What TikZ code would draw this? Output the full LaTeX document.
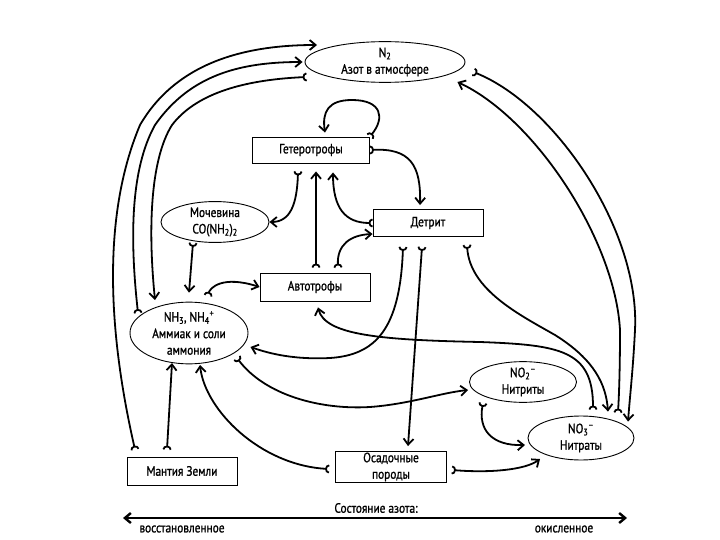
\documentclass[tikz,border=0pt]{standalone}
\usepackage{fontspec}
\setmainfont{PT Sans}[FakeStretch=0.84,FakeBold=1.2]
\usetikzlibrary{arrows.meta,shapes.geometric}
\tikzset{
  Tl/.tip={Arc Barb[reversed,width=9pt,length=4pt]},
  Ar/.tip={Straight Barb[length=6pt,width=10pt]},
  box/.style={draw,rectangle,line width=0.9pt,inner sep=0pt,align=center},
  ell/.style={draw,ellipse,line width=0.9pt,inner sep=0pt,align=center},
  conn/.style={line width=1.8pt,Tl-Ar},
  axis/.style={line width=2.4pt,Ar-Ar},
  lbl/.style={inner sep=0pt}
}
\begin{document}
\begin{tikzpicture}[x=1pt,y=-1pt,font=\fontsize{13.5}{16.5}\selectfont]
\useasboundingbox (0,0) rectangle (720,540);
\node[ell,minimum width=160pt,minimum height=40pt] (n2) at (385,62) {N\textsubscript{2}\\Азот в атмосфере};
\node[box,minimum width=117pt,minimum height=26pt] (het) at (311,150) {Гетеротрофы};
\node[ell,minimum width=108pt,minimum height=38pt] (moch) at (215,222) {Мочевина\\CO(NH\textsubscript{2})\textsubscript{2}};
\node[box,minimum width=110pt,minimum height=27pt] (det) at (428,223) {Детрит};
\node[box,minimum width=110pt,minimum height=28pt] (auto) at (315,287) {Автотрофы};
\node[ell,minimum width=118pt,minimum height=50pt] (nh3) at (189,333) {NH\textsubscript{3}, NH\textsubscript{4}\textsuperscript{+}\\Аммиак и соли\\аммония};
\node[ell,minimum width=107pt,minimum height=40pt] (nit2) at (523,382) {NO\textsubscript{2}\textsuperscript{--}\\Нитриты};
\node[ell,minimum width=106pt,minimum height=44pt] (nit3) at (581,438) {NO\textsubscript{3}\textsuperscript{--}\\Нитраты};
\node[box,minimum width=110pt,minimum height=28pt] (mant) at (182,471) {Мантия Земли};
\node[box,minimum width=111pt,minimum height=31pt] (sed) at (391,467) {Осадочные\\породы};
% heterotrophs
\draw[conn] (het.north east) .. controls (385,118) and (382,100) .. (352,100) .. controls (328,100) and (322,112) .. ([xshift=14pt,yshift=4pt]het.north);
\draw[conn] (het.east) .. controls (410,148) and (421,165) .. ([xshift=-8pt,yshift=4pt]det.north);
\draw[conn] ([xshift=-13pt,yshift=-8pt]het.south) .. controls (297,205) and (290,222) .. (moch.east);
\draw[conn] ([xshift=1pt,yshift=5pt]auto.north) -- ([xshift=5pt,yshift=-8pt]het.south);
\draw[conn] (det.west) .. controls (345,223) and (333,208) .. ([xshift=22pt,yshift=-9pt]het.south);
\draw[conn] ([xshift=23pt,yshift=5pt]auto.north) .. controls (337,245) and (350,235) .. ([yshift=-11pt]det.west);
% ammonia
\draw[conn] ([xshift=-22pt]moch.south) -- ([yshift=9pt]nh3.north);
\draw[conn] ([xshift=19pt,yshift=6pt]nh3.north) .. controls (210,288) and (222,275) .. (auto.west);
\draw[conn] ([xshift=12pt,yshift=6pt]nit3.north) .. controls (593,350) and (560,345) .. (480,342) .. controls (380,340) and (325,335) .. ([xshift=3pt,yshift=-6pt]auto.south);
\draw[conn] ([xshift=-25pt,yshift=-10pt]det.south) .. controls (400,330) and (375,355) .. (330,358) .. controls (290,360) and (265,352) .. ([xshift=2pt,yshift=-14pt]nh3.east);
\draw[conn] ([xshift=-6pt,yshift=-10pt]det.south) -- ([xshift=17pt,yshift=5pt]sed.north);
\draw[conn] ([xshift=39pt,yshift=-8pt]det.south) .. controls (470,290) and (520,315) .. (555,335) .. controls (595,360) and (606,385) .. ([xshift=27pt,yshift=4pt]nit3.north);
% long right arcs
\draw[conn] ([xshift=8pt,yshift=-10pt]n2.east) .. controls (555,105) and (640,230) .. (635,330) .. controls (633,370) and (630,395) .. ([xshift=47pt,yshift=-6pt]nit3.north);
\draw[conn] ([xshift=37pt,yshift=3pt]nit3.north) .. controls (619,395) and (620,370) .. (620,330) .. controls (615,240) and (535,118) .. ([xshift=-8pt,yshift=-20pt]n2.east);
% long left arcs
\draw[conn] ([xshift=-51pt,yshift=20pt]nh3.center) .. controls (130,240) and (130,170) .. (155,125) .. controls (190,75) and (240,62) .. ([xshift=-2pt]n2.west);
\draw[conn] ([xshift=2pt,yshift=-15pt]n2.west) .. controls (240,80) and (195,95) .. (172,125) .. controls (150,160) and (148,230) .. ([xshift=-34pt,yshift=33pt]nh3.center);
\draw[conn] ([xshift=-47pt,yshift=7pt]mant.north) .. controls (110,340) and (100,220) .. (140,125) .. controls (175,65) and (240,45) .. ([xshift=-68pt,yshift=17pt]n2.center);
% lower
\draw[conn] ([xshift=-15pt,yshift=7pt]mant.north) -- ([xshift=-17pt,yshift=-30pt]nh3.center);
\draw[conn] ([xshift=-6pt,yshift=-2pt]sed.west) .. controls (260,465) and (205,410) .. ([xshift=11pt,yshift=-32pt]nh3.center);
\draw[conn] ([xshift=48pt,yshift=-25pt]nh3.center) .. controls (265,395) and (320,410) .. (370,407) .. controls (410,404) and (440,393) .. ([xshift=-55pt,yshift=-8pt]nit2.center);
\draw[conn] ([xshift=-40pt,yshift=-21pt]nit2.center) .. controls (478,430) and (492,446) .. ([xshift=-56pt,yshift=-7pt]nit3.center);
\draw[conn] ([xshift=5pt,yshift=-3pt]sed.east) .. controls (490,473) and (525,470) .. ([xshift=-41pt,yshift=-21pt]nit3.center);
% axis
\coordinate (axl) at (123,518);
\coordinate (axr) at (627,518);
\draw[axis] (axl) -- (axr);
\node[lbl] (st) at (376,508) {Состояние азота:};
\node[lbl] (red) at (182,529) {восстановленное};
\node[lbl] (ox) at (564,529) {окисленное};
\end{tikzpicture}
\end{document}
